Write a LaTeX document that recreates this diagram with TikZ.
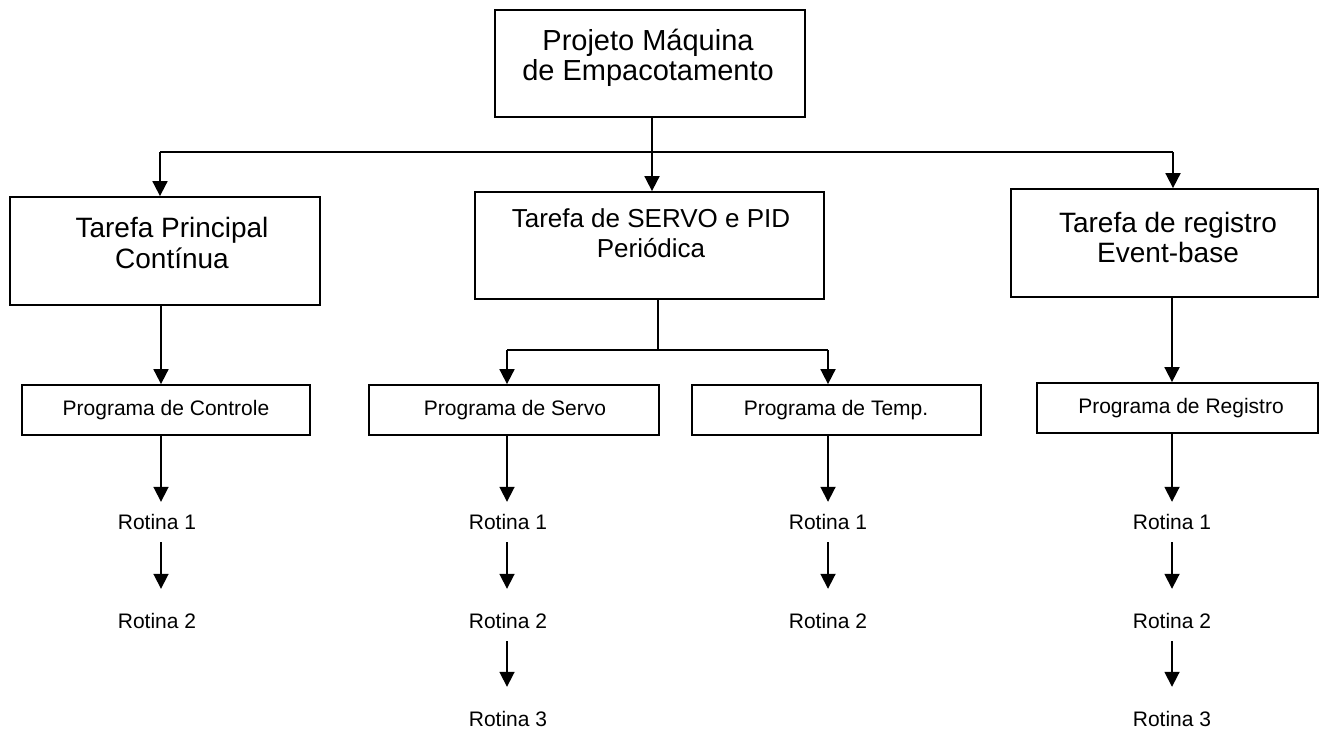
\documentclass[tikz,border=0pt]{standalone}
\usepackage{fontspec}
\setmainfont{Liberation Sans}
\usetikzlibrary{arrows.meta}
\begin{document}
\begin{tikzpicture}[x=1pt,y=-1pt,
  box/.style={draw, line width=1.8pt, inner sep=0pt},
  link/.style={line width=1.8pt},
  arr/.style={link, -{Triangle[width=15pt,length=15pt]}},
  big/.style={align=center, inner sep=0pt, anchor=base},
  small/.style={inner sep=0pt, anchor=base, font=\fontsize{21}{24}\selectfont},
  rot/.style={small, text height=15pt, text depth=0pt},
  firstdown/.style={arr, shorten >=12pt},
  nextdown/.style={arr, shorten <=13pt, shorten >=24pt},
]
\useasboundingbox (0,0) rectangle (1321,729);

% column positions and bus lines
\coordinate (c1) at (161,0);
\coordinate (c2) at (507,0);
\coordinate (c3) at (828,0);
\coordinate (c4) at (1172,0);
\coordinate (busL) at (160,152);
\coordinate (busM) at (652,152);
\coordinate (busR) at (1173,152);
\coordinate (subL) at (507,350);
\coordinate (subM) at (658,350);
\coordinate (subR) at (828,350);

% boxes
\node[box, minimum width=310pt, minimum height=107pt] (top) at (650,63.5) {};
\node[box, minimum width=310pt, minimum height=108pt] (t1) at (165,251) {};
\node[box, minimum width=349pt, minimum height=107pt] (t2) at (649.5,245.5) {};
\node[box, minimum width=307pt, minimum height=108pt] (t3) at (1164.5,243) {};
\node[box, minimum width=288pt, minimum height=50pt] (p1) at (166,410) {};
\node[box, minimum width=290pt, minimum height=50pt] (p2) at (514,410) {};
\node[box, minimum width=289pt, minimum height=50pt] (p3) at (836.5,410) {};
\node[box, minimum width=281pt, minimum height=50pt] (p4) at (1177.5,408) {};

% box texts (anchored at the baseline of the last line)
\node[big, font=\fontsize{29}{30}\selectfont] (topT) at (648,80) {Projeto Máquina\\de Empacotamento};
\node[big, font=\fontsize{28}{31}\selectfont] (t1T) at (172,268) {Tarefa Principal\\Contínua};
\node[big, font=\fontsize{26}{30}\selectfont] (t2T) at (651,257) {Tarefa de SERVO e PID\\Periódica};
\node[big, font=\fontsize{28}{30}\selectfont] (t3T) at (1168,262) {Tarefa de registro\\Event-base};
\node[small] (p1T) at (166,415) {Programa de Controle};
\node[small] (p2T) at (515,415) {Programa de Servo};
\node[small] (p3T) at (836,415) {Programa de Temp.};
\node[small] (p4T) at (1181,413) {Programa de Registro};

% routines
\node[rot] (r11) at (157,529) {Rotina 1};
\node[rot] (r12) at (157,628) {Rotina 2};
\node[rot] (r21) at (508,529) {Rotina 1};
\node[rot] (r22) at (508,628) {Rotina 2};
\node[rot] (r23) at (508,726) {Rotina 3};
\node[rot] (r31) at (828,529) {Rotina 1};
\node[rot] (r32) at (828,628) {Rotina 2};
\node[rot] (r41) at (1172,529) {Rotina 1};
\node[rot] (r42) at (1172,628) {Rotina 2};
\node[rot] (r43) at (1172,726) {Rotina 3};

% top level distribution
\draw[link] (top.south -| busM) -- (busM);
\draw[link] (busL) -- (busR);
\draw[arr] (busL) -- (busL |- t1.north);
\draw[arr] (busM) -- (busM |- t2.north);
\draw[arr] (busR) -- (busR |- t3.north);

% tasks to programs
\draw[arr] (t1.south -| c1) -- (p1.north -| c1);
\draw[link] (t2.south -| subM) -- (subM);
\draw[link] (subL) -- (subR);
\draw[arr] (subL) -- (subL |- p2.north);
\draw[arr] (subR) -- (subR |- p3.north);
\draw[arr] (t3.south -| c4) -- (p4.north -| c4);

% programs to routines
\draw[firstdown] (p1.south -| c1) -- (r11.north -| c1);
\draw[nextdown] (r11.south -| c1) -- (r12.north -| c1);

\draw[firstdown] (p2.south -| c2) -- (r21.north -| c2);
\draw[nextdown] (r21.south -| c2) -- (r22.north -| c2);
\draw[nextdown] (r22.south -| c2) -- (r23.north -| c2);

\draw[firstdown] (p3.south -| c3) -- (r31.north -| c3);
\draw[nextdown] (r31.south -| c3) -- (r32.north -| c3);

\draw[firstdown] (p4.south -| c4) -- (r41.north -| c4);
\draw[nextdown] (r41.south -| c4) -- (r42.north -| c4);
\draw[nextdown] (r42.south -| c4) -- (r43.north -| c4);
\end{tikzpicture}
\end{document}
